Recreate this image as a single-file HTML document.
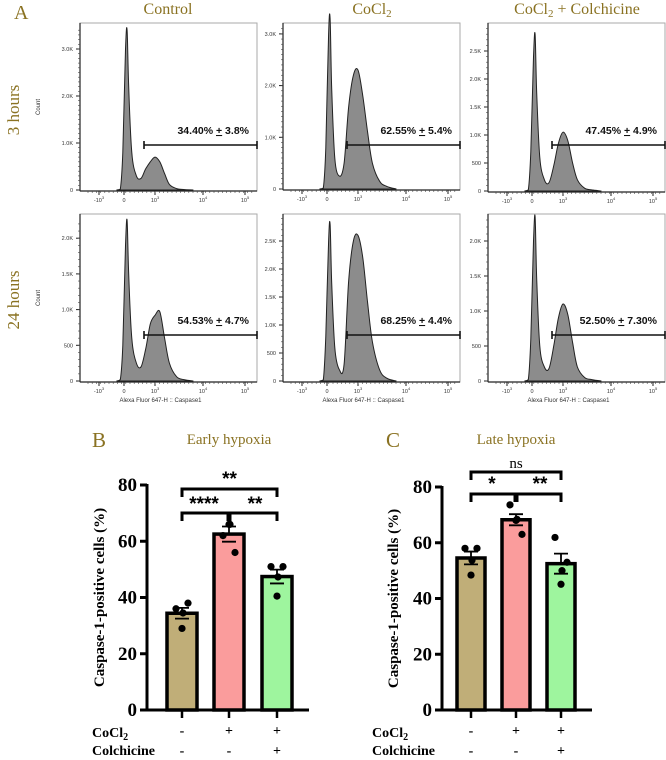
<!DOCTYPE html>
<html><head><meta charset="utf-8"><style>
html,body{margin:0;padding:0;background:#fff;}
svg{display:block;}
.gold{fill:#8a7222;font-family:"Liberation Serif",serif;}
.ser{font-family:"Liberation Serif",serif;}
.sans{font-family:"Liberation Sans",sans-serif;}
</style></head><body>
<svg id="fig" width="666" height="760" viewBox="0 0 666 760" xmlns="http://www.w3.org/2000/svg">
<text class="gold" x="14" y="19" font-size="20">A</text>
<text class="gold" x="168" y="14" font-size="16" text-anchor="middle">Control</text>
<text class="gold" x="372" y="14" font-size="16" text-anchor="middle">CoCl<tspan font-size="11" dy="3">2</tspan></text>
<text class="gold" x="577" y="14" font-size="16" text-anchor="middle">CoCl<tspan font-size="11" dy="3">2</tspan><tspan dy="-3"> + Colchicine</tspan></text>
<text class="gold" font-size="17" text-anchor="middle" transform="translate(19,110) rotate(-90)">3 hours</text>
<text class="gold" font-size="17" text-anchor="middle" transform="translate(19,300) rotate(-90)">24 hours</text>
<g id="hists"></g>
<g id="bars"></g>
</svg>
<script>
// ---------- Histogram data ----------
// bin centres in display units: -1 = -10^3, 0 = 0, 1 = 10^3, 2 = 10^4, 3 = 10^5
const histBins = [-0.3,-0.15,-0.05,0.05,0.1,0.15,0.25,0.4,0.55,0.7,0.85,1.0,1.1,1.2,1.3,1.45,1.6,1.8];
// counts in thousands
const countsCtrl3h  = [0,0.02,0.8,3.0,3.4,2.2,0.8,0.3,0.25,0.45,0.6,0.7,0.6,0.35,0.12,0.03,0.01,0];
const countsCo3h    = [0,0.02,0.8,3.0,3.3,2.0,0.6,0.25,0.5,1.6,2.2,2.3,1.8,1.1,0.5,0.15,0.05,0];
const countsCoCol3h = [0,0.02,0.7,2.4,2.8,1.8,0.6,0.2,0.15,0.45,0.85,1.05,0.9,0.5,0.2,0.05,0.02,0];
const countsCtrl24h = [0,0.02,0.5,1.9,2.25,1.5,0.6,0.25,0.2,0.45,0.8,0.92,0.97,0.6,0.25,0.06,0.02,0];
const countsCo24h   = [0,0.02,0.8,2.5,2.8,1.8,0.6,0.2,0.3,1.8,2.5,2.6,2.2,1.4,0.7,0.2,0.05,0];
const countsCoCol24h= [0,0.02,0.6,2.0,2.35,1.5,0.5,0.2,0.18,0.5,0.9,1.1,0.95,0.55,0.2,0.05,0.02,0];
const gateLabels = ["34.40%","62.55%","47.45%","54.53%","68.25%","52.50%"];
const gateSd = ["3.8%","5.4%","4.9%","4.7%","4.4%","7.30%"];
const yTicksTop1 = [0,1,2,3];
const yTicksTop2 = [0,1,2,3];
const yTicksTop3 = [0,0.5,1,1.5,2,2.5];
const yTicksBot1 = [0,0.5,1,1.5,2];
const yTicksBot2 = [0,0.5,1,1.5,2,2.5];
const yTicksBot3 = [0,0.5,1,1.5,2];
const xTickVals = [-1,0,1,2,3];
const xTickBase = ["-10","0","10","10","10"];
const xTickExp = ["3","","3","4","5"];

// ---------- Bar data ----------
const groups = ["Control","CoCl2","CoCl2+Colchicine"];
const earlyMeans = [34.4,62.55,47.45];
const earlySem = [1.9,2.7,2.45];
const earlyPts = [[36,38,29,34.5],[62,56,66,66],[51,51,40.5,47.3]];
const lateMeans = [54.53,68.25,52.5];
const lateSem = [2.3,2.0,3.6];
const latePts = [[58,58,48.4,53.7],[73.6,63,68,68.4],[61.9,53,45.1,50]];
const yTicksBar = [0,20,40,60,80];
const cocl2Signs = ["-","+","+"];
const colchSigns = ["-","-","+"];

const NS="http://www.w3.org/2000/svg";
function mk(tag,attrs,parent,txt){const e=document.createElementNS(NS,tag);for(const k in attrs)e.setAttribute(k,attrs[k]);if(txt!==undefined)e.textContent=txt;parent.appendChild(e);return e;}

const tOff=[[-1,19],[0,44],[1,75],[2,123],[3,165]];
function tx(t){ if(t<=-1) return 19+(t+1)*25;
  for(let i=0;i<tOff.length-1;i++){const a=tOff[i],b=tOff[i+1]; if(t<=b[0]) return a[1]+(t-a[0])/(b[0]-a[0])*(b[1]-a[1]);}
  return 165+(t-3)*42;}

const H=document.getElementById('hists');
const panels=[
 {x:80,top:23,ax:191,pk:47,c:countsCtrl3h,tk:yTicksTop1,gy:145,name:'control-3h'},
 {x:283,top:23,ax:190,pk:51.7,c:countsCo3h,tk:yTicksTop2,gy:145,name:'cocl2-3h'},
 {x:488,top:23,ax:192,pk:56,c:countsCoCol3h,tk:yTicksTop3,gy:145,name:'cocl2-colchicine-3h'},
 {x:80,top:214,ax:382,pk:71.4,c:countsCtrl24h,tk:yTicksBot1,gy:335,name:'control-24h'},
 {x:283,top:214,ax:382,pk:56,c:countsCo24h,tk:yTicksBot2,gy:335,name:'cocl2-24h'},
 {x:488,top:214,ax:382,pk:70,c:countsCoCol24h,tk:yTicksBot3,gy:335,name:'cocl2-colchicine-24h'}];
const W=177;
panels.forEach((p,i)=>{
 const g=mk('g',{},H);
 
 
 const zero=p.ax-1;
 const fy=v=>zero-v*p.pk;
 const box=mk('rect',{x:p.x,y:p.top,width:W,height:p.ax-p.top,fill:'none',stroke:'#aaa','stroke-width':1},g);
 
 
 const pts=histBins.map((b,j)=>[p.x+tx(b),fy(p.c[j])]);
 let d='M'+pts[0][0]+','+zero+' L'+pts[0][0]+','+pts[0][1];
 for(let j=0;j<pts.length-1;j++){const p0=pts[Math.max(0,j-1)],p1=pts[j],p2=pts[j+1],p3=pts[Math.min(pts.length-1,j+2)];
  const c1=[p1[0]+(p2[0]-p0[0])/6,Math.min(zero,p1[1]+(p2[1]-p0[1])/6)],c2=[p2[0]-(p3[0]-p1[0])/6,Math.min(zero,p2[1]-(p3[1]-p1[1])/6)];
  d+=` C${c1[0].toFixed(1)},${c1[1].toFixed(1)} ${c2[0].toFixed(1)},${c2[1].toFixed(1)} ${p2[0].toFixed(1)},${p2[1].toFixed(1)}`;}
 d+=' L'+pts[pts.length-1][0]+','+zero+'Z';
 const cv=mk('path',{d:d,fill:'#8c8c8c',stroke:'#222','stroke-width':1},g);
 
 
 mk('line',{x1:p.x,y1:p.top,x2:p.x,y2:p.ax,stroke:'#222','stroke-width':1.2},g);
 mk('line',{x1:p.x,y1:p.ax,x2:p.x+W,y2:p.ax,stroke:'#222','stroke-width':1.2},g);
 p.tk.forEach(v=>{const y=fy(v);
  mk('line',{x1:p.x-4,y1:y,x2:p.x,y2:y,stroke:'#222'},g);
  const lab=v===0?'0':(v<1?'500':(v.toFixed(1)+'K'));
  const t=mk('text',{x:p.x-7,y:y+2,'font-size':5.5,'text-anchor':'end',class:'sans',fill:'#333'},g,lab);
  
  });
 for(let y=zero;y>p.top+3;y-=p.pk*0.1){mk('line',{x1:p.x-2,y1:y,x2:p.x,y2:y,stroke:'#444','stroke-width':0.6},g);}
 xTickVals.forEach((v,j)=>{const x=p.x+tx(v);
  mk('line',{x1:x,y1:p.ax,x2:x,y2:p.ax+4,stroke:'#222'},g);
  const t=mk('text',{x:x,y:p.ax+11,'font-size':5.5,'text-anchor':'middle',class:'sans',fill:'#333'},g);
  t.textContent=xTickBase[j];
  if(xTickExp[j]){mk('tspan',{'font-size':4,dy:-3},t,xTickExp[j]);}
  
  });
 for(let k=0;k<40;k++){const x=p.x+8+k*4.2; mk('line',{x1:x,y1:p.ax,x2:x,y2:p.ax+2,stroke:'#444','stroke-width':0.6},g);}
 if(i%3===0){
 const ct=mk('text',{'font-size':6,'text-anchor':'middle',class:'sans',fill:'#333',transform:`translate(${p.x-40},${(p.top+p.ax)/2}) rotate(-90)`},g,'Count');
 
 
 }
 if(i>=3){const at=mk('text',{x:p.x+W/2-8,y:402,'font-size':6,'text-anchor':'middle',class:'sans',fill:'#333'},g,'Alexa Fluor 647-H :: Caspase1');
  
  }
 const gx=p.x+64;
 const gl=mk('g',{},g);
 
 
 mk('line',{x1:gx,y1:p.gy,x2:p.x+W,y2:p.gy,stroke:'#111','stroke-width':1.6},gl);
 mk('line',{x1:gx,y1:p.gy-4,x2:gx,y2:p.gy+4,stroke:'#111','stroke-width':1.6},gl);
 mk('line',{x1:p.x+W,y1:p.gy-4,x2:p.x+W,y2:p.gy+4,stroke:'#111','stroke-width':1.6},gl);
 const gt=mk('text',{x:p.x+W-8,y:p.gy-11,'font-size':10.5,'font-weight':'bold','text-anchor':'end',class:'sans',fill:'#111'},gl);
 gt.textContent=gateLabels[i]+' ';
 mk('tspan',{'text-decoration':'underline'},gt,'+');
 gt.appendChild(document.createTextNode(' '+gateSd[i]));
 
 
});

const B=document.getElementById('bars');
const colors=['#c0ae78','#fa9c9c','#9ef59e'];
function barChart(o){
 const g=mk('g',{},B);
 
 
 const fy=v=>o.y0-v*(o.y0-o.y80)/80;
 const pl=mk('text',{x:o.lx,y:447,'font-size':21,class:'gold'},g,o.letter);
 
 
 const tt=mk('text',{x:o.cx[1],y:444,'font-size':15,'text-anchor':'middle',class:'gold'},g,o.title);
 
 
 o.means.forEach((m,i)=>{
  const r=mk('rect',{x:o.cx[i]-o.bw/2,y:fy(m),width:o.bw,height:fy(0)-fy(m),fill:colors[i],stroke:'#000','stroke-width':3.5},g);
  
  
  const e=mk('path',{d:`M${o.cx[i]},${fy(m)} V${fy(m+o.sem[i])} M${o.cx[i]-7},${fy(m+o.sem[i])} H${o.cx[i]+7} M${o.cx[i]-7},${fy(m-o.sem[i])} H${o.cx[i]+7}`,stroke:'#000','stroke-width':1.8,fill:'none'},g);
  
  
  const jit=[-6,6,0,1];
  o.pts[i].forEach((v,k)=>{const c=mk('circle',{cx:o.cx[i]+jit[k],cy:fy(v),r:3.6,fill:'#000'},g);
   
   });
 });
 mk('line',{x1:o.ax,y1:fy(80)-1,x2:o.ax,y2:fy(0)+1.5,stroke:'#000','stroke-width':3},g);
 mk('line',{x1:o.ax,y1:fy(0),x2:o.xend,y2:fy(0),stroke:'#000','stroke-width':3},g);
 yTicksBar.forEach(v=>{mk('line',{x1:o.ax-7,y1:fy(v),x2:o.ax,y2:fy(v),stroke:'#000','stroke-width':3},g);
  const t=mk('text',{x:o.ax-10,y:fy(v)+6,'font-size':19,'font-weight':'bold','text-anchor':'end',class:'ser'},g,String(v));
  
  });
 o.cx.forEach((x,i)=>{mk('line',{x1:x,y1:fy(0),x2:x,y2:fy(0)+8,stroke:'#000','stroke-width':2.5},g);
  const s1=mk('text',{x:x,y:735,'font-size':14,'font-weight':'bold','text-anchor':'middle',class:'ser'},g,cocl2Signs[i]);
  
  
  const s2=mk('text',{x:x,y:755,'font-size':14,'font-weight':'bold','text-anchor':'middle',class:'ser'},g,colchSigns[i]);
  
  });
 const yl=mk('text',{'font-size':15,'font-weight':'bold','text-anchor':'middle',class:'ser',transform:`translate(${o.ylx},${fy(40)}) rotate(-90)`},g,'Caspase-1-positive cells (%)');
 
 
 const r1=mk('text',{x:o.rlx,y:737,'font-size':14,'font-weight':'bold',class:'ser'},g,'CoCl');
 mk('tspan',{'font-size':10,dy:3},r1,'2');
 
 
 const r2=mk('text',{x:o.rlx,y:755,'font-size':14,'font-weight':'bold',class:'ser'},g,'Colchicine');
 
 
 const br=(x1,x2,y,lab,ly,lx)=>{const p=mk('path',{d:`M${x1},${y+8} V${y} H${x2} V${y+8}`,stroke:'#000','stroke-width':3,fill:'none'},g);
  
  
  const t=mk('text',{x:lx,y:ly,'font-size':lab==='ns'?15:19,'font-weight':lab==='ns'?'normal':'bold','text-anchor':'middle',class:lab==='ns'?'ser':'sans'},g,lab);
  
  };
 br(o.cx[0],o.cx[2],o.bt,o.labs[0],o.bt-4,(o.cx[0]+o.cx[2])/2);
 br(o.cx[0],o.cx[1]-1,o.bl,o.labs[1],o.bl-4+(o.letter==='B'?2:0)+o.loff,o.l1x);
 br(o.cx[1]+1,o.cx[2],o.bl,o.labs[2],o.bl-4+(o.letter==='B'?2:0)+o.loff,o.l2x);
}
barChart({name:'early-hypoxia-chart',letter:'B',title:'Early hypoxia',lx:92,ax:147,xend:309,y0:710,y80:485,cx:[182,229,277],bw:30,means:earlyMeans,sem:earlySem,pts:earlyPts,ylx:104,rlx:92,bt:489,bl:513,labs:['**','****','**'],loff:-1,l1x:204,l2x:255});
barChart({name:'late-hypoxia-chart',letter:'C',title:'Late hypoxia',lx:386,ax:442,xend:592,y0:710,y80:487,cx:[471,516,561],bw:28,means:lateMeans,sem:lateSem,pts:latePts,ylx:398,rlx:372,bt:472,bl:494,labs:['ns','*','**'],loff:0,l1x:492,l2x:540});
</script>
</body></html>
